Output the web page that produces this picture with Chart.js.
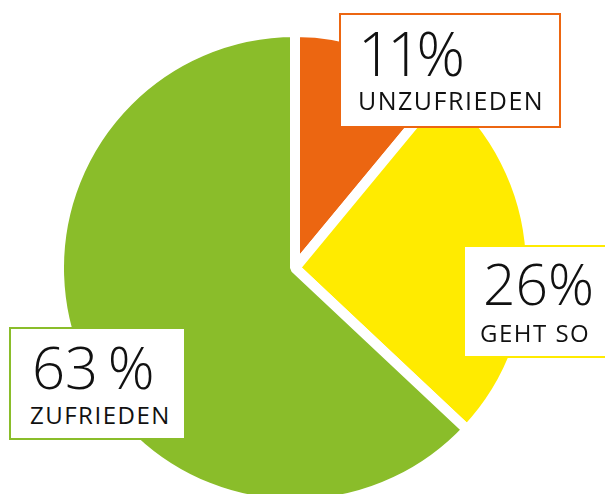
<!DOCTYPE html>
<html>
<head>
<meta charset="utf-8">
<script src="https://cdn.jsdelivr.net/npm/chart.js@4"></script>
<style>
  html, body { margin: 0; padding: 0; background: #fff; }
  body { width: 605px; height: 494px; overflow: hidden; position: relative;
         font-family: "Open Sans", "Noto Sans", sans-serif; font-weight: 300; color: #111; }
  #wrap { position: absolute; left: 54px; top: 27px; width: 482px; height: 482px; }
  .box { position: absolute; background: #fff; box-sizing: border-box; border: 2px solid; }
  .t { position: absolute; line-height: 1; white-space: nowrap; }
  .s { font-weight: 400; letter-spacing: 1.5px; }
</style>
</head>
<body>
<div id="wrap"><canvas id="pie"></canvas></div>
<div id="labels"></div>
<script>
// Zufriedenheit - Anteile in Prozent
var categories = ['UNZUFRIEDEN', 'GEHT SO', 'ZUFRIEDEN'];
var values = [11, 26, 63];
var colors = ['#EC6611', '#FFEB00', '#8ABD2A'];
var percentSuffix = ['%', '%', '\u2009%'];

var ctx = document.getElementById('pie').getContext('2d');
var pie = new Chart(ctx, {
  type: 'pie',
  data: {
    labels: categories,
    datasets: [{
      data: values,
      backgroundColor: colors,
      borderColor: '#ffffff',
      borderWidth: 10,
      hoverOffset: 0
    }]
  },
  options: {
    responsive: true,
    maintainAspectRatio: false,
    animation: false,
    events: [],
    plugins: { legend: { display: false }, tooltip: { enabled: false } }
  }
});

// label boxes (layout only, text comes from the arrays above)
var boxes = [
  { box: [339, 13, 222, 115], big: [358, 23, 60], small: [358, 88, 25] },
  { box: [463, 245, 150, 113], big: [483, 255, 57], small: [480, 321, 24] },
  { box: [9, 327, 177, 113], big: [32, 338, 58], small: [30, 403, 24] }
];
var holder = document.getElementById('labels');
boxes.forEach(function (b, i) {
  var d = document.createElement('div');
  d.className = 'box';
  d.style.cssText = 'left:' + b.box[0] + 'px;top:' + b.box[1] + 'px;width:' + b.box[2] +
    'px;height:' + b.box[3] + 'px;border-color:' + colors[i];
  holder.appendChild(d);
  var big = document.createElement('div');
  big.className = 't';
  big.textContent = values[i] + percentSuffix[i];
  big.style.cssText = 'left:' + b.big[0] + 'px;top:' + b.big[1] + 'px;font-size:' + b.big[2] + 'px';
  if (i === 0) big.style.letterSpacing = '-5px';
  holder.appendChild(big);
  var small = document.createElement('div');
  small.className = 't s';
  small.textContent = categories[i];
  small.style.cssText = 'left:' + b.small[0] + 'px;top:' + b.small[1] + 'px;font-size:' + b.small[2] + 'px';
  holder.appendChild(small);
});
</script>
</body>
</html>
